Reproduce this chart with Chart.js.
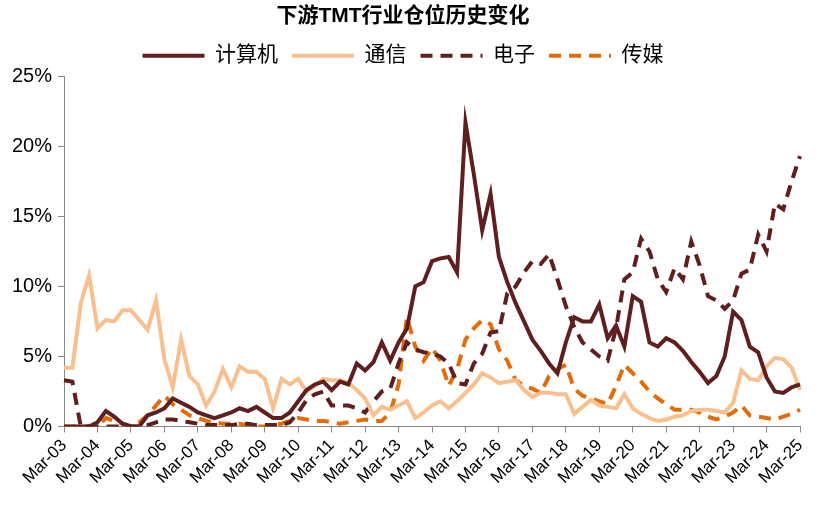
<!DOCTYPE html>
<html><head><meta charset="utf-8">
<script src="https://cdn.jsdelivr.net/npm/chart.js@4"></script>
<style>body{margin:0;background:#fff}#w{width:828px;height:519px}</style>
</head><body><div id="w"><canvas id="c"></canvas></div>
<script>
const years = [];
for (let y = 3; y <= 25; y++) years.push(y);
const quarterNames = ['Mar','Jun','Sep','Dec'];
const categories = [];
years.forEach(y => quarterNames.forEach(q => { if (!(y === 25 && q !== 'Mar')) categories.push(q + '-' + String(y).padStart(2,'0')); }));
const computer = [0,0,0,0,0.3,1.1,0.7,0.2,0,0,0.8,1.0,1.3,2.0,1.7,1.4,1.0,0.8,0.6,0.8,1.0,1.3,1.1,1.4,1.0,0.6,0.6,1.0,1.8,2.6,3.0,3.2,2.6,3.2,3.0,4.5,4.0,4.6,6.0,4.7,6.0,7.0,10.0,10.3,11.8,12.0,12.1,11.0,21.7,18.0,14.0,16.6,12.1,10.3,8.8,7.5,6.2,5.4,4.5,3.8,6.0,7.8,7.5,7.5,8.7,6.3,7.2,5.7,9.3,8.9,6.0,5.7,6.3,6.0,5.4,4.6,3.9,3.1,3.6,5.0,8.2,7.6,5.7,5.3,3.5,2.5,2.4,2.8,3.0];
const telecom = [4.2,4.2,8.8,10.8,7.0,7.6,7.5,8.3,8.3,7.6,6.9,9.0,4.8,2.8,6.2,3.6,3.0,1.5,2.5,4.1,2.8,4.3,3.9,3.9,3.4,1.3,3.4,3.0,3.4,2.5,2.9,3.4,3.3,3.3,3.1,2.6,2.0,0.8,1.4,1.2,1.5,1.8,0.6,1.0,1.5,1.8,1.3,1.8,2.4,3.0,3.8,3.5,3.1,3.2,3.3,2.6,2.1,2.4,2.4,2.3,2.3,0.9,1.4,1.9,1.5,1.4,1.3,2.3,1.3,0.9,0.6,0.4,0.5,0.7,0.8,1.1,1.2,1.2,1.1,1.0,1.7,4.0,3.4,3.3,4.3,4.9,4.8,4.2,2.6];
const electronics = [3.3,3.2,0,0,0,0,0,0,0,0,0.1,0.3,0.5,0.5,0.4,0.3,0.2,0.1,0.1,0.1,0.1,0.2,0.2,0.1,0.1,0.1,0.1,0.3,1.0,1.9,2.3,2.5,1.5,1.5,1.5,1.3,1.0,1.8,2.5,2.7,4.5,6.0,5.5,5.3,5.2,5.0,4.5,3.1,3.0,4.5,5.2,6.7,6.8,9.5,10.0,11.0,11.8,11.6,12.3,10.5,8.6,7.1,6.0,5.5,5.0,4.7,7.0,10.5,11.0,13.4,12.5,10.5,9.6,11.3,10.5,13.2,11.5,9.3,9.0,8.4,9.0,10.9,11.2,13.7,12.5,15.9,15.5,17.5,19.3];
const media = [0,0,0,0,0,0.6,0.4,0.2,0,0.3,0.8,1.5,2.2,1.6,1.2,0.8,0.6,0.4,0.3,0.2,0.2,0.2,0.1,0,0,0.1,0.2,0.4,0.6,0.5,0.4,0.4,0.3,0.2,0.3,0.4,0.5,0.4,0.4,1.0,3.0,7.8,5.7,4.7,5.6,4.7,2.9,4.1,6.2,7.0,7.6,7.3,5.5,4.7,3.3,2.9,2.7,2.4,3.6,4.1,4.4,2.7,2.2,2.0,1.8,1.6,2.9,4.4,3.8,3.2,2.5,2.0,1.6,1.2,1.2,1.2,1.0,0.7,0.5,0.7,1.0,1.5,0.8,0.7,0.6,0.5,0.7,0.9,1.2];
const seriesNames = ['计算机','通信','电子','传媒'];
const yTicks = [0,5,10,15,20,25];

const F = 'Arial, "Liberation Sans", "Noto Sans CJK SC", sans-serif';
const mk = (label, data, color, dash) => ({label, data, borderColor: color, backgroundColor: color, borderWidth: 4, borderDash: dash, pointRadius: 0, tension: 0, fill: false});
new Chart(document.getElementById('c'), {
  type: 'line',
  data: { labels: categories, datasets: [
    mk(seriesNames[0], computer, '#5e1f1e', []),
    mk(seriesNames[1], telecom, '#f9c08f', []),
    mk(seriesNames[2], electronics, '#5e1f1e', [12,8]),
    mk(seriesNames[3], media, '#e36c0a', [12,8]),
  ]},
  options: {
    responsive: true, maintainAspectRatio: false, animation: false,
    layout: { padding: { left: 6, right: 28, top: 4, bottom: 28 } },
    plugins: {
      title: { display: true, text: '下游TMT行业仓位历史变化', color: '#000', font: { family: F, size: 21, weight: 'bold' }, padding: { top: 0, bottom: 2 } },
      legend: { labels: { usePointStyle: true, pointStyle: 'line', pointStyleWidth: 62, color: '#000', font: { family: F, size: 21 }, padding: 14,
        generateLabels: chart => Chart.defaults.plugins.legend.labels.generateLabels(chart).map((l, i) => Object.assign(l, { lineDash: chart.data.datasets[i].borderDash, lineWidth: 4 })) } },
      tooltip: { enabled: false }
    },
    scales: {
      x: {
        grid: { drawOnChartArea: false, color: '#888', tickLength: 6, lineWidth: ctx => (ctx.index % 4 === 0 ? 1 : 0) },
        border: { color: '#888' },
        ticks: { autoSkip: false, maxRotation: 45, minRotation: 45, color: '#000', font: { family: F, size: 17 },
          callback: function(v, i) { return i % 4 === 0 ? categories[i] : ''; } }
      },
      y: {
        min: 0, max: 25,
        afterBuildTicks: ax => { ax.ticks = yTicks.map(v => ({value: v})); },
        grid: { drawOnChartArea: false, color: '#888', tickLength: 6 },
        border: { color: '#888' },
        ticks: { color: '#000', font: { family: F, size: 20 }, padding: 6, callback: v => v + '%' }
      }
    }
  }
});
</script></body></html>
